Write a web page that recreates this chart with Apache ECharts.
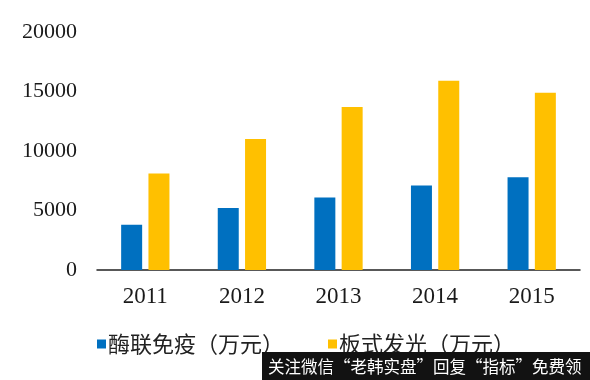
<!DOCTYPE html>
<html>
<head>
<meta charset="utf-8">
<script src="https://cdn.jsdelivr.net/npm/echarts@6/dist/echarts.min.js"></script>
<style>
html,body{margin:0;padding:0;background:#fff;}
#chart{width:590px;height:380px;}
</style>
</head>
<body>
<div id="chart"></div>
<script>
const categories = ['2011', '2012', '2013', '2014', '2015'];
const seriesNames = ['酶联免疫（万元）', '板式发光（万元）'];
const elisaValues = [3800, 5200, 6100, 7100, 7800];
const clValues = [8100, 11000, 13700, 15900, 14900];
const yTicks = { min: 0, max: 20000, interval: 5000 };
const watermarkText = '关注微信“老韩实盘”回复“指标”免费领';

const chart = echarts.init(document.getElementById('chart'), null, { renderer: 'canvas' });
const serif = '"Liberation Serif", "DejaVu Serif", serif';
const cjk = '"Noto Sans CJK SC", sans-serif';

chart.setOption({
  animation: false,
  backgroundColor: '#ffffff',
  grid: { left: 97, right: 10, top: 32, bottom: 110, containLabel: false },
  legend: {
    data: seriesNames,
    left: 92,
    top: 328,
    icon: 'rect',
    itemWidth: 9,
    itemHeight: 9,
    itemGap: 44,
    textStyle: { fontFamily: cjk, fontSize: 22, color: '#222', padding: [0, 0, 0, -3] }
  },
  xAxis: {
    type: 'category',
    data: categories,
    axisLine: { show: true, lineStyle: { color: '#222', width: 1.5 } },
    axisTick: { show: false },
    axisLabel: { fontFamily: serif, fontSize: 23, color: '#1a1a1a', margin: 15 }
  },
  yAxis: {
    type: 'value',
    min: yTicks.min,
    max: yTicks.max,
    interval: yTicks.interval,
    axisLine: { show: false },
    axisTick: { show: false },
    splitLine: { show: false },
    axisLabel: {
      fontFamily: serif, fontSize: 22, color: '#1a1a1a', margin: 20,
      formatter: function (v) { return String(v); }
    }
  },
  series: [
    {
      name: seriesNames[0],
      type: 'bar',
      data: elisaValues,
      barWidth: 21,
      barGap: '30%',
      itemStyle: { color: '#0070C0' }
    },
    {
      name: seriesNames[1],
      type: 'bar',
      data: clValues,
      barWidth: 21,
      barGap: '30%',
      itemStyle: { color: '#FFC000' }
    }
  ],
  graphic: [
    {
      type: 'rect',
      shape: { x: 262, y: 352, width: 328, height: 28 },
      style: { fill: '#121212' },
      z: 100
    },
    {
      type: 'text',
      x: 268,
      y: 367,
      style: {
        text: watermarkText,
        fill: '#ffffff',
        font: '16.5px "Noto Sans CJK SC", sans-serif',
        verticalAlign: 'middle'
      },
      z: 101
    }
  ]
});
</script>
</body>
</html>
